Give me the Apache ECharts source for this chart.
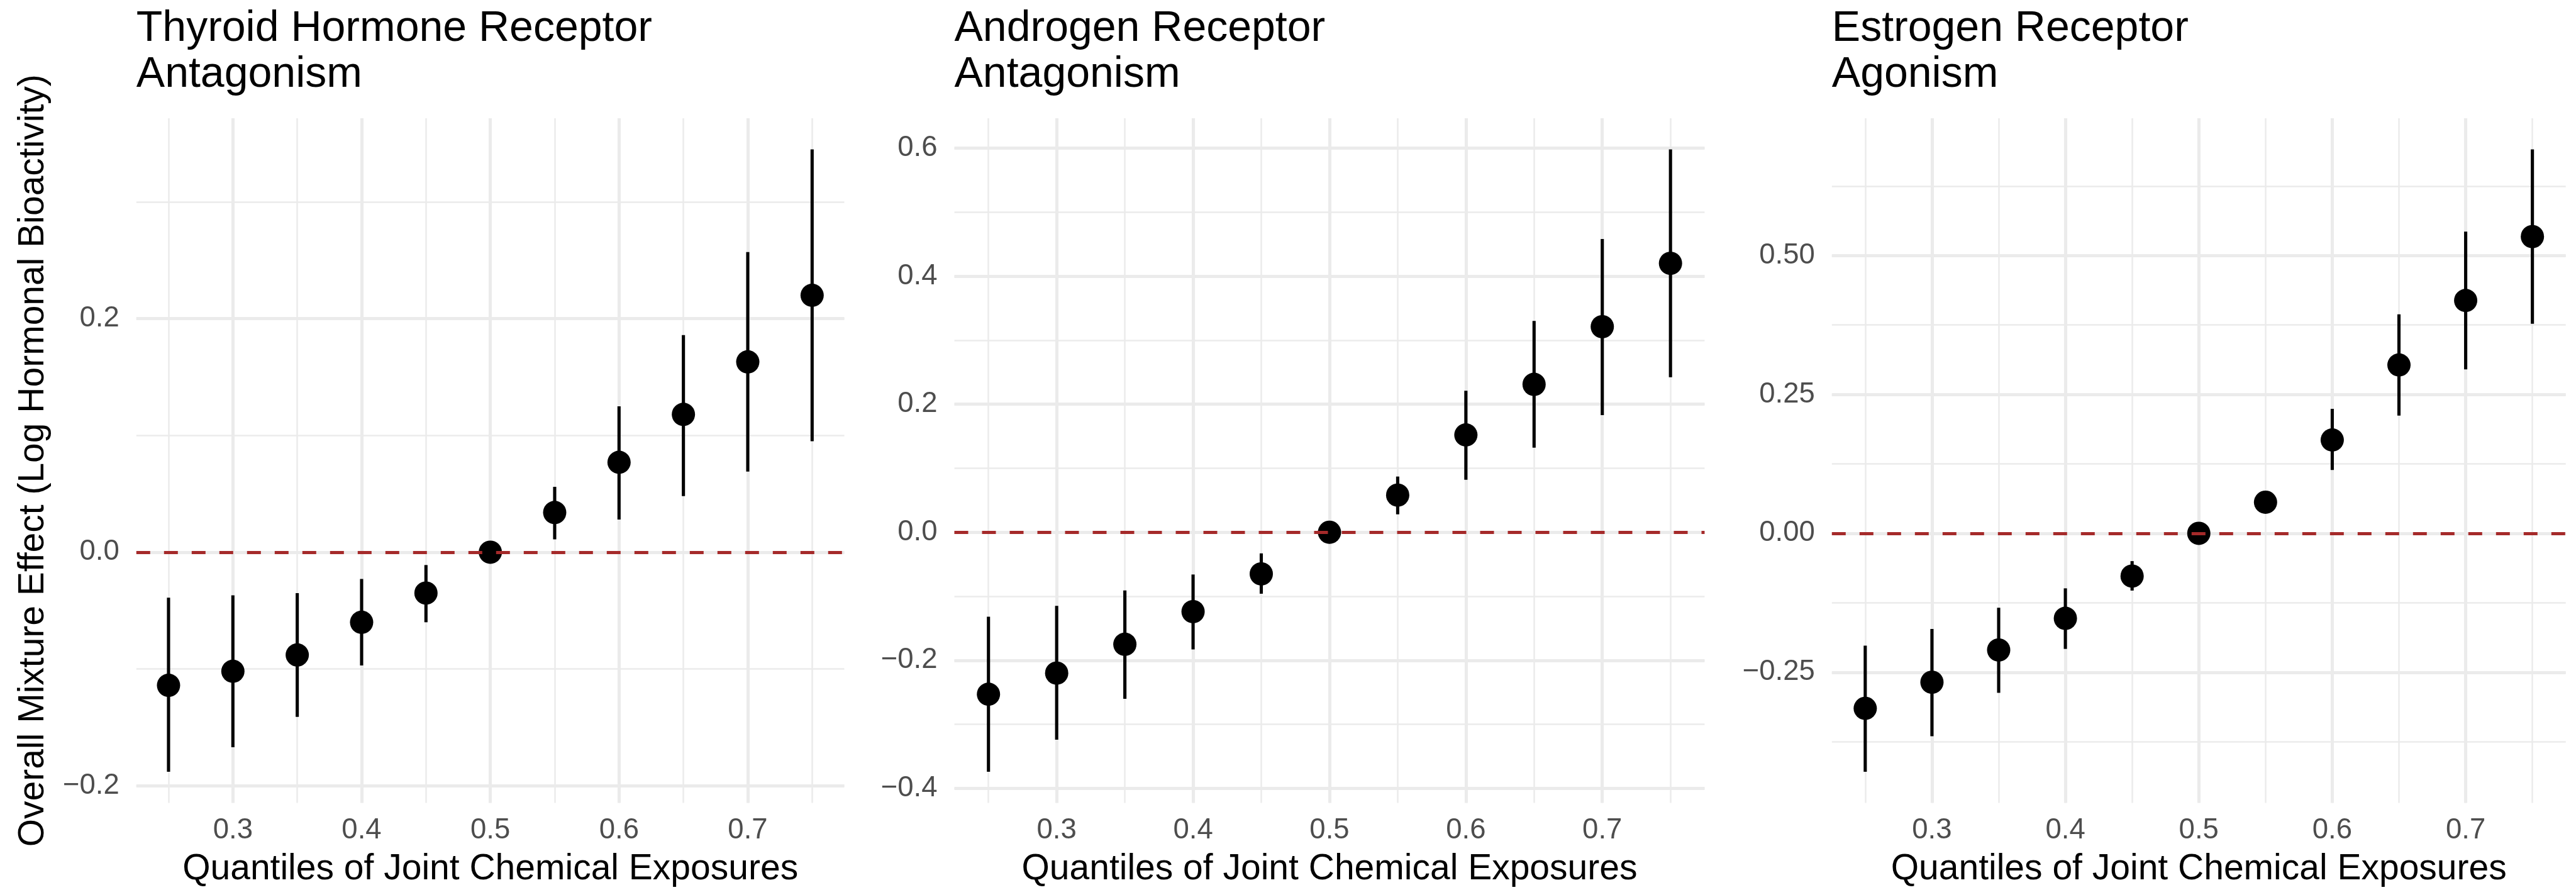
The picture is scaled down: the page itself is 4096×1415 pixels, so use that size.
<!DOCTYPE html>
<html>
<head>
<meta charset="utf-8">
<script src="https://cdn.jsdelivr.net/npm/echarts@6/dist/echarts.min.js"></script>
<style>
html, body { margin: 0; padding: 0; background: #fff; }
#chart { width: 4096px; height: 1415px; }
</style>
</head>
<body>
<div id="chart"></div>
<script>
var quantiles = [0.25, 0.30, 0.35, 0.40, 0.45, 0.50, 0.55, 0.60, 0.65, 0.70, 0.75];

// thyroid hormone receptor antagonism
var thyroid_est = [-0.114, -0.102, -0.088, -0.060, -0.035, 0, 0.034, 0.077, 0.118, 0.163, 0.220];
var thyroid_lo  = [-0.188, -0.167, -0.141, -0.097, -0.060, 0, 0.011, 0.028, 0.048, 0.069, 0.095];
var thyroid_hi  = [-0.039, -0.037, -0.035, -0.023, -0.011, 0, 0.056, 0.125, 0.186, 0.257, 0.345];

// androgen receptor antagonism
var androgen_est = [-0.253, -0.220, -0.175, -0.124, -0.065, 0, 0.058, 0.152, 0.231, 0.321, 0.420];
var androgen_lo  = [-0.374, -0.324, -0.260, -0.183, -0.096, 0, 0.028, 0.082, 0.132, 0.183, 0.242];
var androgen_hi  = [-0.132, -0.115, -0.091, -0.066, -0.033, 0, 0.087, 0.221, 0.330, 0.458, 0.598];

// estrogen receptor agonism
var estrogen_est = [-0.315, -0.268, -0.210, -0.153, -0.077, 0, 0.056, 0.168, 0.303, 0.419, 0.534];
var estrogen_lo  = [-0.429, -0.365, -0.287, -0.208, -0.103, 0, 0.045, 0.114, 0.212, 0.295, 0.377];
var estrogen_hi  = [-0.202, -0.172, -0.134, -0.099, -0.050, 0, 0.068, 0.224, 0.394, 0.543, 0.691];

var panel_titles = ['Thyroid Hormone Receptor\nAntagonism', 'Androgen Receptor\nAntagonism', 'Estrogen Receptor\nAgonism'];
var x_title = 'Quantiles of Joint Chemical Exposures';
var y_title = 'Overall Mixture Effect (Log Hormonal Bioactivity)';

var x_minor_step = 0.05;
var x_major_step = 0.1;
var y_minor_steps = [0.1, 0.1, 0.125];
var y_major_steps = [0.2, 0.2, 0.25];
var y_label_digits = [1, 1, 2];

var panels = [
    {est: thyroid_est, lo: thyroid_lo, hi: thyroid_hi},
    {est: androgen_est, lo: androgen_lo, hi: androgen_hi},
    {est: estrogen_est, lo: estrogen_lo, hi: estrogen_hi}
];

var FONT = '"Liberation Sans", Arial, sans-serif';
var grid_boxes = [
    {left: 216.8, width: 1125.7},
    {left: 1517.5, width: 1192.9},
    {left: 2912.8, width: 1166.9}
];
var grid_top = 188;
var grid_height = 1088.4;

// ggplot style 5% expansion on both ends
function expand(lo, hi) {
    var pad = (hi - lo) * 0.05;
    return [lo - pad, hi + pad];
}

function tickFormatter(step, digits) {
    return function (v) {
        var k = v / step;
        if (Math.abs(k - Math.round(k)) > 1e-6) {
            return '';
        }
        return (Math.round(k) * step).toFixed(digits).replace('-', '\u2212');
    };
}

function renderRange(params, api) {
    var x = api.value(0);
    var p1 = api.coord([x, api.value(1)]);
    var p2 = api.coord([x, api.value(2)]);
    return {
        type: 'line',
        shape: {x1: p1[0], y1: p1[1], x2: p2[0], y2: p2[1]},
        style: {stroke: '#000', lineWidth: 5.1}
    };
}

var x_range = expand(Math.min.apply(null, quantiles), Math.max.apply(null, quantiles));

var grids = [], xAxes = [], yAxes = [], series = [], titles = [], graphics = [];

panels.forEach(function (pan, p) {
    var y_range = expand(Math.min.apply(null, pan.lo), Math.max.apply(null, pan.hi));
    grids.push({
        left: grid_boxes[p].left, width: grid_boxes[p].width,
        top: grid_top, height: grid_height,
        containLabel: false, outerBoundsMode: 'none'
    });

    // minor grid axis (also carries the data)
    xAxes.push({
        type: 'value', gridIndex: p, position: 'bottom',
        min: x_range[0], max: x_range[1],
        minInterval: x_minor_step, maxInterval: x_minor_step,
        axisLine: {show: false}, axisTick: {show: false}, axisLabel: {show: false},
        splitLine: {show: true, showMinLine: false, showMaxLine: false,
            lineStyle: {color: '#EBEBEB', width: 2.5}}
    });
    // major grid axis with labels
    xAxes.push({
        type: 'value', gridIndex: p, position: 'bottom',
        min: x_range[0], max: x_range[1],
        minInterval: x_major_step, maxInterval: x_major_step,
        axisLine: {show: false}, axisTick: {show: false},
        axisLabel: {show: true, margin: 21, fontSize: 45.5, fontFamily: FONT, color: '#4D4D4D',
            formatter: tickFormatter(x_major_step, 1)},
        splitLine: {show: true, showMinLine: false, showMaxLine: false,
            lineStyle: {color: '#EBEBEB', width: 5.1}}
    });

    yAxes.push({
        type: 'value', gridIndex: p, position: 'left',
        min: y_range[0], max: y_range[1],
        minInterval: y_minor_steps[p], maxInterval: y_minor_steps[p],
        axisLine: {show: false}, axisTick: {show: false}, axisLabel: {show: false},
        splitLine: {show: true, showMinLine: false, showMaxLine: false,
            lineStyle: {color: '#EBEBEB', width: 2.5}}
    });
    yAxes.push({
        type: 'value', gridIndex: p, position: 'left',
        min: y_range[0], max: y_range[1],
        minInterval: y_major_steps[p], maxInterval: y_major_steps[p],
        axisLine: {show: false}, axisTick: {show: false},
        axisLabel: {show: true, margin: 27, fontSize: 45.5, fontFamily: FONT, color: '#4D4D4D',
            formatter: tickFormatter(y_major_steps[p], y_label_digits[p])},
        splitLine: {show: true, showMinLine: false, showMaxLine: false,
            lineStyle: {color: '#EBEBEB', width: 5.1}}
    });

    // dashed reference line at zero
    series.push({
        type: 'line', xAxisIndex: 2 * p, yAxisIndex: 2 * p, data: [], z: 1,
        markLine: {
            silent: true, symbol: ['none', 'none'], label: {show: false},
            lineStyle: {color: '#A52A2A', width: 5.1, type: [22, 22], opacity: 1},
            emphasis: {disabled: true},
            data: [{yAxis: 0}]
        }
    });
    series.push({
        type: 'custom', xAxisIndex: 2 * p, yAxisIndex: 2 * p, z: 2, silent: true,
        renderItem: renderRange,
        encode: {x: 0, y: [1, 2]},
        data: quantiles.map(function (q, i) { return [q, pan.lo[i], pan.hi[i]]; })
    });
    series.push({
        type: 'scatter', xAxisIndex: 2 * p, yAxisIndex: 2 * p, z: 3, silent: true,
        symbol: 'circle', symbolSize: 37,
        itemStyle: {color: '#000', opacity: 1},
        emphasis: {disabled: true},
        data: quantiles.map(function (q, i) { return [q, pan.est[i]]; })
    });

    titles.push({
        text: panel_titles[p], left: grid_boxes[p].left, top: 9.4, padding: 0,
        textStyle: {fontSize: 68, lineHeight: 73, fontWeight: 'normal', color: '#000', fontFamily: FONT}
    });

    graphics.push({
        type: 'text', x: grid_boxes[p].left + grid_boxes[p].width / 2, y: 1382,
        style: {text: x_title, fontSize: 57, fontFamily: FONT, fill: '#000',
            align: 'center', textAlign: 'center', verticalAlign: 'middle', textVerticalAlign: 'middle'}
    });
});

graphics.push({
    type: 'text', x: 53.7, y: grid_top + grid_height / 2, rotation: Math.PI / 2,
    style: {text: y_title, fontSize: 57, fontFamily: FONT, fill: '#000',
        align: 'center', textAlign: 'center', verticalAlign: 'middle', textVerticalAlign: 'middle'}
});

var chart = echarts.init(document.getElementById('chart'));
chart.setOption({
    backgroundColor: '#fff',
    animation: false,
    title: titles,
    grid: grids,
    xAxis: xAxes,
    yAxis: yAxes,
    series: series,
    graphic: graphics
});
</script>
</body>
</html>
